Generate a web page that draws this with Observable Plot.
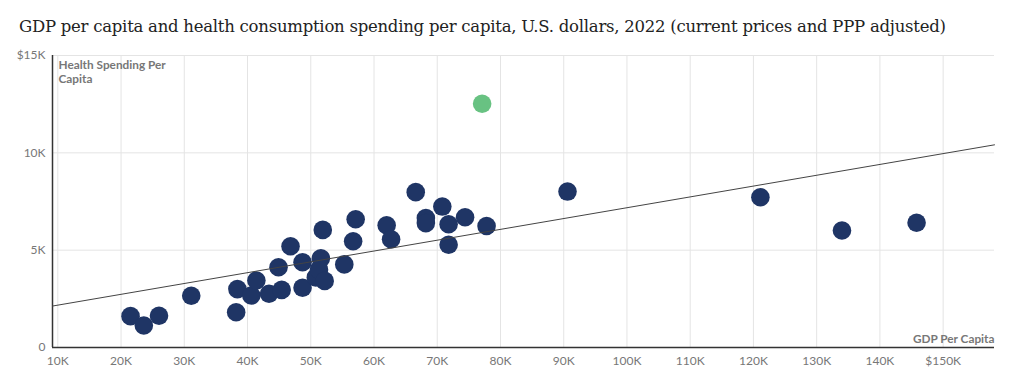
<!DOCTYPE html>
<html>
<head>
<meta charset="utf-8">
<script src="https://cdn.jsdelivr.net/npm/d3@7"></script>
<script src="https://cdn.jsdelivr.net/npm/@observablehq/plot@0.6"></script>
<style>
  html, body { margin: 0; padding: 0; background: #fff; }
  #title { height: 45px; box-sizing: border-box; padding: 17px 0 0 19px; font: 16.5px/20px "DejaVu Serif", serif; letter-spacing: -0.25px; color: #222; white-space: nowrap; }
  #chart svg { display: block; }
</style>
</head>
<body>
<div id="title">GDP per capita and health consumption spending per capita, U.S. dollars, 2022 (current prices and PPP adjusted)</div>
<div id="chart"></div>
<script>
// GDP per capita (USD, PPP) for the comparison countries
const gdp = [21500, 23600, 26000, 31100, 38200, 38400, 40600, 41400, 43400, 45400,
             44900, 46800, 48700, 48700, 51600, 51900, 50800, 51300, 52200, 55300,
             56700, 57100, 62000, 62700, 66600, 68200, 68200, 70800, 71800, 71800,
             74400, 77800, 90600, 121100, 134000, 145800];
// Health consumption spending per capita (USD, PPP)
const health = [1610, 1130, 1630, 2660, 1810, 3000, 2670, 3440, 2760, 2960,
                4120, 5200, 3070, 4380, 4580, 6040, 3600, 4000, 3420, 4270,
                5460, 6590, 6280, 5560, 7980, 6650, 6390, 7240, 6330, 5280,
                6690, 6240, 8010, 7720, 6010, 6410];
// Highlighted country (United States)
const usGdp = [77100];
const usHealth = [12520];
// Trend line
const trendIntercept = 1620;
const trendSlope = 0.0556;
// Ticks
const xTicks = [10000, 20000, 30000, 40000, 50000, 60000, 70000, 80000, 90000, 100000, 110000, 120000, 130000, 140000, 150000];
const yTicks = [0, 5000, 10000, 15000];
const xLabel = "GDP Per Capita";
const yLabel = "Health Spending Per\nCapita";

const xDomain = [9160, 158120];
const points = gdp.map((g, i) => ({gdp: g, health: health[i]}));
const us = usGdp.map((g, i) => ({gdp: g, health: usHealth[i]}));
const trend = xDomain.map(x => ({gdp: x, health: trendIntercept + trendSlope * x}));

const fmtX = d => (d === 150000 ? "$" : "") + d / 1000 + "K";
const fmtY = d => d === 0 ? "0" : (d === 15000 ? "$" : "") + d / 1000 + "K";

const chart = Plot.plot({
  width: 1015,
  height: 335,
  marginTop: 10,
  marginBottom: 33,
  marginLeft: 52,
  marginRight: 21,
  style: {fontFamily: "Lato, sans-serif", fontSize: "12px", color: "#777", background: "#fff"},
  x: {domain: xDomain, ticks: xTicks, tickFormat: fmtX, tickSize: 0, tickPadding: 9, label: null},
  y: {domain: [0, 15000], ticks: yTicks, tickFormat: fmtY, tickSize: 0, tickPadding: 7, label: null},
  marks: [
    Plot.gridX(xTicks, {stroke: "#e4e4e4", strokeOpacity: 1}),
    Plot.gridY(yTicks, {stroke: "#e4e4e4", strokeOpacity: 1}),
    Plot.axisX(xTicks, {tickFormat: fmtX, tickSize: 0, tickPadding: 9, fill: "#777", fontSize: 12}),
    Plot.axisY(yTicks, {tickFormat: fmtY, tickSize: 0, tickPadding: 7, fill: "#777", fontSize: 12}),
    Plot.ruleY([0], {stroke: "#333", strokeWidth: 1.5}),
    Plot.ruleX([xDomain[0]], {stroke: "#333", strokeWidth: 1.5}),
    Plot.dot(points, {x: "gdp", y: "health", r: 9.3, fill: "#1f3565", stroke: "none"}),
    Plot.dot(us, {x: "gdp", y: "health", r: 9.3, fill: "#68c282", stroke: "none"}),
    Plot.line(trend, {x: "gdp", y: "health", stroke: "#444", strokeWidth: 1}),
    Plot.text([yLabel], {frameAnchor: "top-left", textAnchor: "start", lineAnchor: "top", dx: 6, dy: 4, fontWeight: "bold", fontSize: 11.8, fill: "#777", lineHeight: 1.15}),
    Plot.text([xLabel], {frameAnchor: "bottom-right", textAnchor: "end", lineAnchor: "bottom", dx: 0, dy: -5, fontWeight: "bold", fontSize: 11.8, fill: "#777"})
  ]
});
document.getElementById("chart").appendChild(chart);
</script>
</body>
</html>
